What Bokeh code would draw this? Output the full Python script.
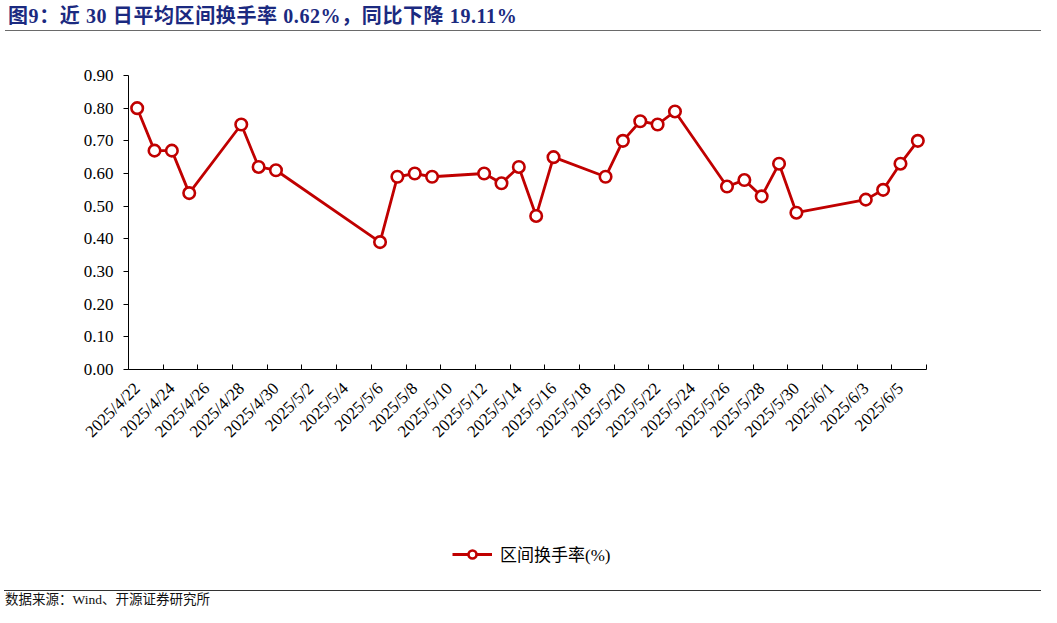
import pandas as pd
from bokeh.plotting import figure
from bokeh.models import (Range1d, FixedTicker, NumeralTickFormatter, Div, Legend,
                          LegendItem)
from bokeh.layouts import column
from bokeh.embed import file_html
from bokeh.resources import INLINE
import math

# ---- data ----
dates = ["2025-04-22", "2025-04-23", "2025-04-24", "2025-04-25", "2025-04-28",
         "2025-04-29", "2025-04-30", "2025-05-06", "2025-05-07", "2025-05-08",
         "2025-05-09", "2025-05-12", "2025-05-13", "2025-05-14", "2025-05-15",
         "2025-05-16", "2025-05-19", "2025-05-20", "2025-05-21", "2025-05-22",
         "2025-05-23", "2025-05-26", "2025-05-27", "2025-05-28", "2025-05-29",
         "2025-05-30", "2025-06-03", "2025-06-04", "2025-06-05", "2025-06-06"]
turnover = [0.80, 0.67, 0.67, 0.54, 0.75,
            0.62, 0.61, 0.39, 0.59, 0.60,
            0.59, 0.60, 0.57, 0.62, 0.47,
            0.65, 0.59, 0.70, 0.76, 0.75,
            0.79, 0.56, 0.58, 0.53, 0.63,
            0.48, 0.52, 0.55, 0.63, 0.70]
tick_dates = ["2025-04-22", "2025-04-24", "2025-04-26", "2025-04-28", "2025-04-30",
              "2025-05-02", "2025-05-04", "2025-05-06", "2025-05-08", "2025-05-10",
              "2025-05-12", "2025-05-14", "2025-05-16", "2025-05-18", "2025-05-20",
              "2025-05-22", "2025-05-24", "2025-05-26", "2025-05-28", "2025-05-30",
              "2025-06-01", "2025-06-03", "2025-06-05"]
tick_labels = ["2025/4/22", "2025/4/24", "2025/4/26", "2025/4/28", "2025/4/30",
               "2025/5/2", "2025/5/4", "2025/5/6", "2025/5/8", "2025/5/10",
               "2025/5/12", "2025/5/14", "2025/5/16", "2025/5/18", "2025/5/20",
               "2025/5/22", "2025/5/24", "2025/5/26", "2025/5/28", "2025/5/30",
               "2025/6/1", "2025/6/3", "2025/6/5"]
y_ticks = [0.0, 0.1, 0.2, 0.3, 0.4, 0.5, 0.6, 0.7, 0.8, 0.9]
series_name = "区间换手率(%)"
title_text = "图9：近 30 日平均区间换手率 0.62%，同比下降 19.11%"
source_text = "数据来源：Wind、开源证券研究所"

start = pd.Timestamp("2025-04-22")
end = pd.Timestamp("2025-06-06")
x = [(pd.Timestamp(d) - start).days for d in dates]
tx = [(pd.Timestamp(d) - start).days for d in tick_dates]
n_days = (end - start).days
minor = [-0.5 + 2 * k for k in range(int((n_days + 1) / 2) + 1)]

RED = "#C00000"
SERIF = "Liberation Serif"
LINE_STYLE = dict(line_color=RED, line_width=2.8)
PT_STYLE = dict(marker="circle", size=11.5, fill_color="white",
                line_color=RED, line_width=2.6)

# ---- main chart ----
p = figure(width=1041, height=489, output_backend="svg", toolbar_location=None,
           x_range=Range1d(-0.5, n_days + 0.5), y_range=Range1d(0, 0.9),
           min_border_left=128, min_border_right=115, min_border_top=44,
           min_border_bottom=151)
p.outline_line_color = None
p.xgrid.grid_line_color = None
p.ygrid.grid_line_color = None

p.line(x, turnover, **LINE_STYLE)
p.scatter(x, turnover, **PT_STYLE)

# y axis
p.yaxis.ticker = FixedTicker(ticks=y_ticks)
p.yaxis.formatter = NumeralTickFormatter(format="0.00")
p.yaxis.major_tick_out = 5
p.yaxis.major_tick_in = 0
p.yaxis.minor_tick_line_color = None
p.yaxis.axis_line_color = "black"
p.yaxis.major_tick_line_color = "black"
p.yaxis.major_label_text_font = SERIF
p.yaxis.major_label_text_font_size = "17px"
p.yaxis.major_label_text_color = "black"
p.yaxis.major_label_standoff = 10

# x axis
p.xaxis.ticker = FixedTicker(ticks=tx, minor_ticks=minor)
p.xaxis.major_label_overrides = {t: l for t, l in zip(tx, tick_labels)}
p.xaxis.major_tick_line_color = None
p.xaxis.minor_tick_line_color = "black"
p.xaxis.minor_tick_in = 5
p.xaxis.minor_tick_out = 0
p.xaxis.axis_line_color = "black"
p.xaxis.major_label_orientation = math.pi / 4
p.xaxis.major_label_text_font = SERIF
p.xaxis.major_label_text_font_size = "17px"
p.xaxis.major_label_text_color = "black"
p.xaxis.major_label_standoff = 10

# ---- legend strip (series drawn off-range, only its legend shows) ----
lp = figure(width=1041, height=70, output_backend="svg", toolbar_location=None,
            x_axis_type=None, y_axis_type=None, min_border=0,
            x_range=Range1d(1000, 1001), y_range=Range1d(1000, 1001))
lp.outline_line_color = None
lp.xgrid.grid_line_color = None
lp.ygrid.grid_line_color = None
k_line = lp.line(x, turnover, **LINE_STYLE)
k_pts = lp.scatter(x, turnover, **PT_STYLE)
lg = Legend(items=[LegendItem(label=series_name, renderers=[k_line, k_pts])],
            location=(324, 24), orientation="horizontal",
            border_line_color=None, background_fill_alpha=0, padding=5,
            margin=0, glyph_width=40, glyph_height=20, label_standoff=8,
            label_text_font="Liberation Serif, Noto Sans CJK SC",
            label_text_font_size="17px", label_text_color="black")
lp.add_layout(lg, "center")

FONT = "'Liberation Serif', 'Noto Sans CJK SC', serif"
title_div = Div(text=title_text, width=1036, height=31, margin=(0, 0, 0, 5),
                styles={
    "font-family": FONT, "font-size": "20px", "font-weight": "bold",
    "color": "#1B2A80", "line-height": "20px", "letter-spacing": "0.6px",
    "border-bottom": "1.5px solid #6a6a6a", "box-sizing": "border-box",
    "padding-top": "6px", "padding-left": "3px"})
src_div = Div(text=source_text, width=1037, height=17, margin=(0, 0, 0, 4),
              styles={
    "font-family": FONT, "font-size": "13.5px", "color": "#111111",
    "line-height": "15px", "border-top": "1.2px solid #333333",
    "box-sizing": "border-box", "padding-top": "1px", "padding-left": "1px"})

layout = column(title_div, p, lp, src_div, spacing=0)
open("out.html", "w").write(file_html(layout, INLINE))
